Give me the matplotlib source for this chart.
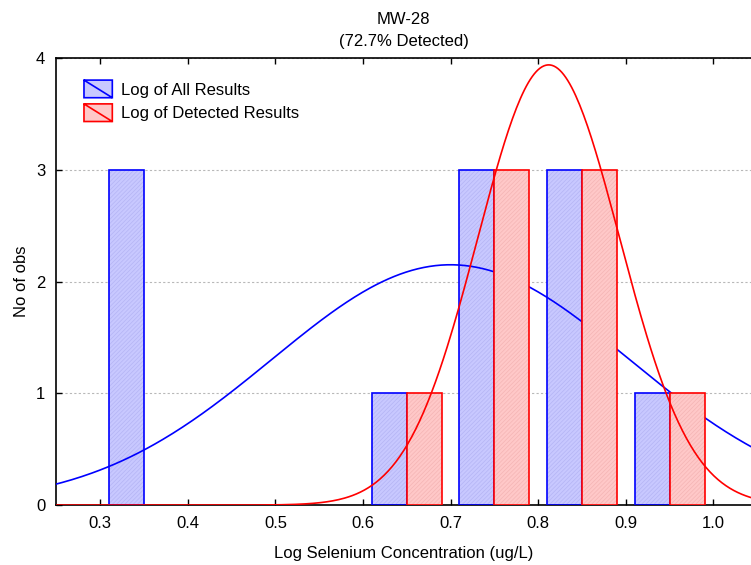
import numpy as np
import matplotlib
matplotlib.use("Agg")
import matplotlib.pyplot as plt
from matplotlib.patches import Patch, PathPatch
from matplotlib.path import Path
from matplotlib.legend_handler import HandlerPatch

plt.rcParams['font.family'] = ['Liberation Sans', 'DejaVu Sans']
plt.rcParams['hatch.linewidth'] = 0.5

# dane
all_left = [0.31, 0.61, 0.71, 0.81, 0.91]
all_counts = [3, 1, 3, 3, 1]
det_left = [0.65, 0.75, 0.85, 0.95]
det_counts = [1, 3, 3, 1]
bar_width = 0.04
bin_width = 0.1

# parametry dopasowanych krzywych normalnych
all_n, all_mean, all_sd = 11, 0.70, 0.204
det_n, det_mean, det_sd = 8, 0.812, 0.081

x_ticks = [0.3, 0.4, 0.5, 0.6, 0.7, 0.8, 0.9, 1.0]
y_ticks = [0, 1, 2, 3, 4]

BLUE = '#0000ff'
RED = '#ff0000'


def normal_curve(x, n, mean, sd):
    '''krzywa normalna przeskalowana do liczby obserwacji'''
    return n * bin_width / (sd * np.sqrt(2 * np.pi)) * np.exp(-0.5 * ((x - mean) / sd) ** 2)


def legend_box(legend, orig_handle, xdescent, ydescent, width, height, fontsize):
    x0, y0 = -xdescent, -ydescent
    verts = [(x0, y0), (x0 + width, y0), (x0 + width, y0 + height), (x0, y0 + height), (x0, y0),
             (x0, y0 + height), (x0 + width, y0)]
    codes = [Path.MOVETO, Path.LINETO, Path.LINETO, Path.LINETO, Path.CLOSEPOLY,
             Path.MOVETO, Path.LINETO]
    return PathPatch(Path(verts, codes))


fig = plt.figure(figsize=(7.51, 5.65), dpi=100)
ax = fig.add_axes([0.0752, 0.106, 0.9248, 0.791])

xs = np.linspace(0.2, 1.1, 400)

# niebieskie słupki + krzywa
ax.bar(all_left, all_counts, width=bar_width, align='edge', color='#c8c8ff',
       edgecolor='#b4b4f4', linewidth=0, hatch='////////', zorder=2)
ax.bar(all_left, all_counts, width=bar_width, align='edge', fill=False,
       edgecolor=BLUE, linewidth=1.2, zorder=3)
ax.plot(xs, normal_curve(xs, all_n, all_mean, all_sd), color=BLUE, lw=1.2, zorder=4)

# czerwone słupki + krzywa
ax.bar(det_left, det_counts, width=bar_width, align='edge', color='#ffc8c8',
       edgecolor='#f4b4b4', linewidth=0, hatch='////////', zorder=5)
ax.bar(det_left, det_counts, width=bar_width, align='edge', fill=False,
       edgecolor=RED, linewidth=1.2, zorder=6)
ax.plot(xs, normal_curve(xs, det_n, det_mean, det_sd), color=RED, lw=1.2, zorder=7)

ax.set_xlim(0.25, 1.043)
ax.set_ylim(0, 4)
ax.set_xticks(x_ticks)
ax.set_xticklabels([f"{t:.1f}" for t in x_ticks])
ax.set_yticks(y_ticks)
ax.tick_params(direction='in', top=True, length=4, width=1, labelsize=12, pad=8)
ax.tick_params(axis='y', pad=8)
ax.yaxis.grid(True, linestyle=(0, (2, 2)), color='#b8b8b8', lw=0.8)
ax.set_axisbelow(True)
for s in ['left', 'top', 'bottom']:
    ax.spines[s].set_linewidth(1.2)
ax.spines['right'].set_visible(False)

ax.set_xlabel("Log Selenium Concentration (ug/L)", fontsize=12, labelpad=11)
ax.set_ylabel("No of obs", fontsize=12, labelpad=5)
ax.set_title("MW-28\n(72.7% Detected)", fontsize=12, pad=9, linespacing=1.55)

h1 = Patch(facecolor='#c8c8ff', edgecolor=BLUE, linewidth=1.2)
h2 = Patch(facecolor='#ffc8c8', edgecolor=RED, linewidth=1.2)
ax.legend([h1, h2], ["Log of All Results", "Log of Detected Results"], loc='upper left',
          bbox_to_anchor=(0.0396, 0.951), frameon=False, fontsize=12, borderpad=0,
          borderaxespad=0, handlelength=1.7, handleheight=1.25, handletextpad=0.5,
          labelspacing=0.37,
          handler_map={Patch: HandlerPatch(patch_func=legend_box)})

fig.savefig("out.png", dpi=100)
